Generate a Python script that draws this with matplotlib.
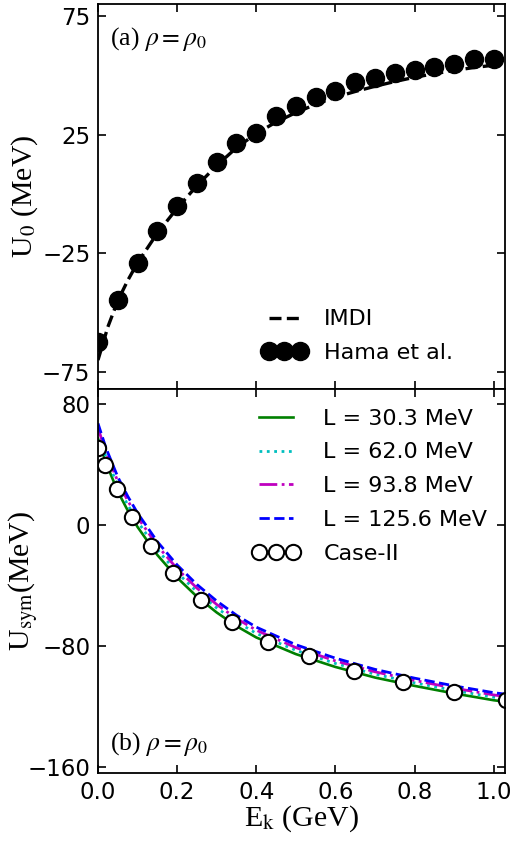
#!/usr/bin/env python3
# -*- coding: utf-8 -*-

"""
Single-particle potential U0 and symmetry potential Usym versus kinetic energy
at saturation density, two stacked panels sharing the energy axis.
"""

import numpy as np
import matplotlib as mpl
import matplotlib.pyplot as plt

mpl.rcParams['mathtext.fontset'] = 'stix'

# (a) isoscalar potential
E_imdi = [0, 0.025, 0.05, 0.075, 0.1, 0.15, 0.2, 0.25, 0.3, 0.35, 0.4, 0.45,
          0.5, 0.55, 0.6, 0.65, 0.7, 0.75, 0.8, 0.85, 0.9, 0.95, 1.0]
U_imdi = [-70, -56, -45, -36.5, -29, -16.5, -6, 3.5, 12, 19.5, 25.5, 30.3,
          34.3, 37.8, 40.8, 43.2, 45.4, 47.4, 49.2, 50.7, 52.1, 53.3, 54.3]

E_hama = [0.0, 0.05, 0.1, 0.15, 0.2, 0.25, 0.3, 0.35, 0.4, 0.45, 0.5,
          0.55, 0.6, 0.65, 0.7, 0.75, 0.8, 0.85, 0.9, 0.95, 1.0]
U_hama = [-62.5, -44.5, -28.9, -15.8, -4.9, 4.8, 13.3, 21.3, 25.9, 32.7, 37.3,
          40.7, 43.6, 47.0, 49.1, 50.8, 52.1, 53.4, 55.0, 56.7, 56.9]

# (b) symmetry potential for four slope parameters
E_sym = [0, 0.02, 0.05, 0.075, 0.1, 0.15, 0.2, 0.25, 0.3, 0.35, 0.4, 0.5,
         0.6, 0.7, 0.8, 0.9, 1.0, 1.03]
U_L30 = [57, 41, 22, 9.5, -1.5, -20, -35, -47.5, -58, -67, -74.5, -85.5,
         -94, -101, -106.5, -111.5, -116, -117]
U_L62 = [61, 44.9, 25.8, 13.2, 2.2, -16.5, -31.6, -44.3, -55, -64.1, -71.8, -83,
         -91.7, -98.8, -104.5, -109.5, -114, -115]
U_L94 = [64, 47.9, 28.7, 16.0, 4.9, -13.8, -29.1, -41.9, -52.7, -62, -69.7, -81.2,
         -90, -97.2, -102.9, -108, -112.5, -113.5]
U_L126 = [67, 50.8, 31.6, 18.9, 7.7, -11.2, -26.6, -39.5, -50.4, -59.8, -67.7, -79.3,
          -88.2, -95.6, -101.4, -106.5, -111, -112]

E_case2 = [0.0, 0.018, 0.048, 0.086, 0.134, 0.19, 0.261, 0.339, 0.43, 0.532,
           0.646, 0.77, 0.899, 1.03]
U_case2 = [50.5, 39.6, 23.7, 5.3, -13.9, -31.7, -49.5, -64, -77.2, -87,
           -97, -104.2, -110.8, -116]

if __name__ == "__main__":
    fig = plt.figure(figsize=(5.13, 8.41), dpi=100)
    gs = fig.add_gridspec(2, 1, left=0.191, right=0.984, bottom=0.081, top=0.995, hspace=0)
    ax1 = fig.add_subplot(gs[0, 0])
    ax2 = fig.add_subplot(gs[1, 0], sharex=ax1)

    serif = 'Liberation Serif'

    # upper panel
    ax1.plot(E_imdi, U_imdi, color='k', lw=2.4, dashes=(3.6, 1.6), label='IMDI')
    ax1.plot(E_hama, U_hama, 'o', color='k', ms=13, label='Hama et al.')
    ax1.set_ylim(-82, 80)
    ax1.set_yticks([-75, -25, 25, 75])
    ax1.set_ylabel(r'U$_0$ (MeV)', family=serif, fontsize=21.5)
    ax1.text(0.03, 0.945, r'(a) $\rho=\rho_0$', transform=ax1.transAxes,
             family=serif, fontsize=18.5, va='top')
    ax1.legend(loc='lower left', frameon=False, fontsize=16, numpoints=3,
               handlelength=2.0, handletextpad=0.8, labelspacing=0.6,
               bbox_to_anchor=(0.354, 0.015))
    plt.setp(ax1.get_xticklabels(), visible=False)

    # lower panel
    ax2.plot(E_sym, U_L30, color='g', lw=1.9, label='L = 30.3 MeV')
    ax2.plot(E_sym, U_L62, color='c', lw=2.0, ls=':', label='L = 62.0 MeV')
    ax2.plot(E_sym, U_L94, color='m', lw=2.0, ls='-.', label='L = 93.8 MeV')
    ax2.plot(E_sym, U_L126, color='b', lw=2.0, ls='--', label='L = 125.6 MeV')
    ax2.plot(E_case2, U_case2, 'o', mfc='w', mec='k', mew=1.5, ms=11, label='Case-II')
    ax2.set_ylim(-164, 90)
    ax2.set_yticks([-160, -80, 0, 80])
    ax2.set_xlim(0, 1.028)
    ax2.set_xticks([0.0, 0.2, 0.4, 0.6, 0.8, 1.0])
    ax2.set_ylabel(r'U$_{\rm sym}$(MeV)', family=serif, fontsize=21.5)
    ax2.set_xlabel(r'E$_{\rm k}$ (GeV)', family=serif, fontsize=21.5)
    ax2.text(0.03, 0.04, r'(b) $\rho=\rho_0$', transform=ax2.transAxes,
             family=serif, fontsize=18.5, va='bottom')
    ax2.legend(loc='upper left', frameon=False, fontsize=16, numpoints=3,
               handlelength=2.15, handletextpad=1.05, labelspacing=0.62,
               bbox_to_anchor=(0.33, 1.0))

    for ax in (ax1, ax2):
        ax.tick_params(direction='in', top=True, right=True, length=6, width=1.2,
                       labelsize=16.5)
        ax.tick_params(axis='y', pad=5.5)
        ax.tick_params(axis='x', pad=6)
        for s in ax.spines.values():
            s.set_linewidth(1.3)
        ax.yaxis.set_label_coords(-0.143, 0.5)
    ax2.xaxis.set_label_coords(0.5, -0.078)

    plt.savefig('out.png', dpi=100)
